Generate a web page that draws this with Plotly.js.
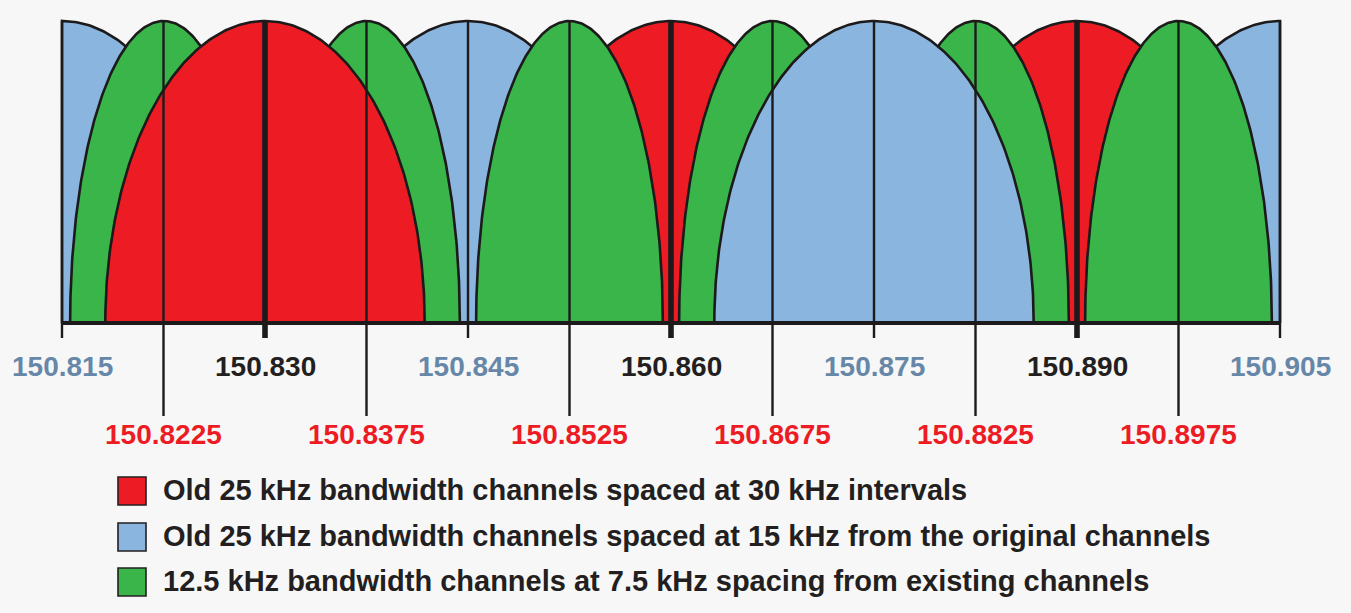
<!DOCTYPE html>
<html><head><meta charset="utf-8">
<script src="https://cdn.plot.ly/plotly-3.0.1.min.js"></script>
<style>html,body{margin:0;padding:0;background:#f7f7f7;}#chart{width:1351px;height:613px;}</style>
</head><body><div id="chart"></div>
<script>
// ---------------- data ----------------
const bandStart = 150.815;
const bandEnd = 150.905;
const redCenters = [150.830, 150.860, 150.890];                 // old 25 kHz channels, 30 kHz spacing
const blueCenters = [150.815, 150.845, 150.875, 150.905];       // old 25 kHz channels, 15 kHz offset
const greenCenters = [150.8225, 150.8375, 150.8525, 150.8675, 150.8825, 150.8975]; // new 12.5 kHz channels
const frontCenters = [150.830, 150.875];                        // channels drawn on top
const oldDrawnWidthKHz = 23.6;
const newDrawnWidthKHz = 13.8;
const topLabelValues = [150.815, 150.830, 150.845, 150.860, 150.875, 150.890, 150.905];
const topLabels = ['150.815', '150.830', '150.845', '150.860', '150.875', '150.890', '150.905'];
const bottomLabelValues = [150.8225, 150.8375, 150.8525, 150.8675, 150.8825, 150.8975];
const bottomLabels = ['150.8225', '150.8375', '150.8525', '150.8675', '150.8825', '150.8975'];
const legendLabels = [
  'Old 25 kHz bandwidth channels spaced at 30 kHz intervals',
  'Old 25 kHz bandwidth channels spaced at 15 kHz from the original channels',
  '12.5 kHz bandwidth channels at 7.5 kHz spacing from existing channels'
];

// ---------------- style ----------------
const C = {
  bg: '#f7f7f7', red: '#ed1c24', blue: '#8ab5de', green: '#39b54a',
  ink: '#1c1a1b', text: '#231f20', blueText: '#6687a8', redText: '#ed1c24'
};
const FONT = 'Liberation Sans, Arial, Helvetica, sans-serif';

// page geometry (pixels)
const W = 1351, H = 613;
const mL = 58, mR = 67, mT = 4, mB = 143;
const plotW = W - mL - mR, plotH = H - mT - mB;
const pxPerMHz = 1218 / (bandEnd - bandStart);
const pad = 4 / pxPerMHz;
const baseY = 323, apexY = 21, unit = baseY - apexY;
const yOf = px => (baseY - px) / unit;
const yRange = [yOf(mT + plotH), yOf(mT)];
const xPaper = px => (px - mL) / plotW;
const yPaper = px => (mT + plotH - px) / plotH;

function archTrace(c, widthKHz, fill) {
  const hw = widthKHz / 2 / 1000;
  const xs = [], ys = [];
  const N = 240;
  for (let i = 0; i <= N; i++) {
    const t = Math.PI * i / N;
    let x = c + hw * Math.cos(t);
    x = Math.min(bandEnd, Math.max(bandStart, x));
    xs.push(x); ys.push(Math.sin(t));
  }
  return {
    type: 'scatter', mode: 'lines', x: xs, y: ys, fill: 'toself',
    fillcolor: fill, line: {color: C.ink, width: 2.6}, hoverinfo: 'skip', showlegend: false
  };
}

const traces = [];
const oldChannels = redCenters.map(c => ({c, col: C.red})).concat(blueCenters.map(c => ({c, col: C.blue})));
// back layer of old channels
oldChannels.filter(o => !frontCenters.includes(o.c)).forEach(o => traces.push(archTrace(o.c, oldDrawnWidthKHz, o.col)));
// new narrow channels
greenCenters.forEach(c => traces.push(archTrace(c, newDrawnWidthKHz, C.green)));
// front layer of old channels
oldChannels.filter(o => frontCenters.includes(o.c)).forEach(o => traces.push(archTrace(o.c, oldDrawnWidthKHz, o.col)));

// center lines
function lineTrace(centers, yEnd, width) {
  const xs = [], ys = [];
  centers.forEach(c => { xs.push(c, c, null); ys.push(1, yEnd, null); });
  return {type: 'scatter', mode: 'lines', x: xs, y: ys, line: {color: C.ink, width: width}, hoverinfo: 'skip', showlegend: false};
}
traces.push(lineTrace(blueCenters, yOf(338), 2.4));
traces.push(lineTrace(greenCenters, yOf(416), 2.4));
traces.push(lineTrace(redCenters, yOf(338), 5.6));
// baseline axis
traces.push({type: 'scatter', mode: 'lines', x: [bandStart, bandEnd], y: [0, 0], line: {color: C.ink, width: 4.2}, hoverinfo: 'skip', showlegend: false});

const annotations = [];
topLabelValues.forEach((v, i) => {
  const col = redCenters.includes(v) ? C.text : C.blueText;
  annotations.push({x: v, y: yOf(366), xref: 'x', yref: 'y', text: '<b>' + topLabels[i] + '</b>', showarrow: false,
    xanchor: 'center', yanchor: 'middle', font: {family: FONT, size: 28, color: col}});
});
bottomLabelValues.forEach((v, i) => {
  annotations.push({x: v, y: yOf(434.5), xref: 'x', yref: 'y', text: '<b>' + bottomLabels[i] + '</b>', showarrow: false,
    xanchor: 'center', yanchor: 'middle', font: {family: FONT, size: 28, color: C.redText}});
});

const legendColors = [C.red, C.blue, C.green];
const legendTops = [477, 523, 568];
const shapes = [];
legendLabels.forEach((t, i) => {
  shapes.push({type: 'rect', xref: 'paper', yref: 'paper', x0: xPaper(118), x1: xPaper(146),
    y0: yPaper(legendTops[i] + 28), y1: yPaper(legendTops[i]), fillcolor: legendColors[i], line: {color: C.text, width: 1.6}});
  annotations.push({x: xPaper(161), y: yPaper(legendTops[i] + 13), xref: 'paper', yref: 'paper', text: '<b>' + t + '</b>',
    showarrow: false, xanchor: 'left', yanchor: 'middle', font: {family: FONT, size: 29, color: C.text}});
});

const layout = {
  width: W, height: H,
  margin: {l: mL, r: mR, t: mT, b: mB, pad: 0},
  paper_bgcolor: C.bg, plot_bgcolor: C.bg,
  showlegend: false,
  xaxis: {range: [bandStart - pad, bandEnd + pad], visible: false, fixedrange: true},
  yaxis: {range: yRange, visible: false, fixedrange: true},
  annotations: annotations, shapes: shapes
};
Plotly.newPlot('chart', traces, layout, {staticPlot: true, displayModeBar: false});
</script>
</body></html>
